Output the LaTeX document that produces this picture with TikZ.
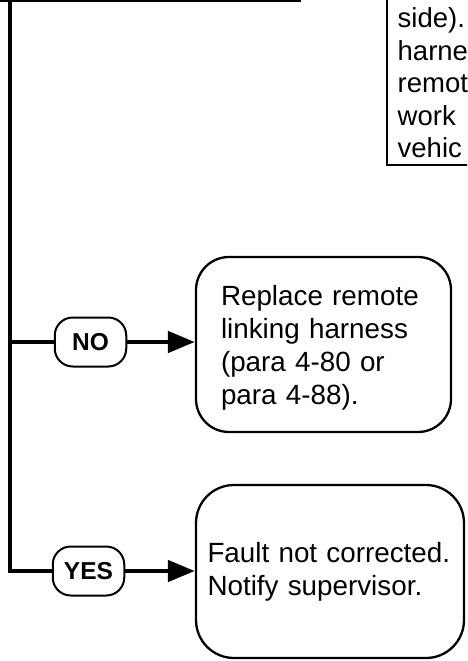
\documentclass[tikz,border=0pt]{standalone}
\usepackage{fontspec}
\setmainfont{Liberation Sans}
\usetikzlibrary{arrows.meta}
\tikzset{
  conn/.style={line width=4.7pt},
  arr/.style={conn, -{Triangle[length=27pt,width=21pt]}},
  oval/.style={draw, line width=2pt, rounded corners=18pt, minimum width=71.5pt,
    minimum height=49pt, inner sep=0pt, font=\bfseries\fontsize{24.5}{28}\selectfont},
  actbox/.style={draw, line width=2.3pt, inner sep=0pt, align=left,
    font=\fontsize{27.8}{32.7}\selectfont},
  notetext/.style={inner sep=0pt, align=left, text width=80pt,
    font=\fontsize{27.5}{32.4}\selectfont}
}
\begin{document}
\begin{tikzpicture}[x=1pt,y=-1pt]
\useasboundingbox (0,0) rectangle (467,661);
\clip (0,0) rectangle (467,661);
% top
\coordinate (tl) at (0,0);
\coordinate (tr) at (301,0);
\coordinate (trunk) at (10,0);
\draw[conn] (tl) -- (tr);
% note box at top right
\draw[line width=2.3pt] (387,-20) rectangle (540,165);
\node[notetext, anchor=north west] (note) at (397.5,7.7) {side).\\harne\\remot\\work\\vehic};
% decisions
\node[oval] (no) at (90.5,342) {NO};
\node[oval] (yes) at (88.5,571) {YES};
% action boxes
\node[actbox, rounded corners=33pt, minimum width=255pt, minimum height=175pt, text width=205pt]
  (nobox) at (323.5,344.5) {\rule{0pt}{26.8pt}Replace remote\\linking harness\\(para 4-80 or\\para 4-88).};
\node[actbox, rounded corners=38pt, minimum width=268pt, minimum height=173pt, text width=245pt]
  (yesbox) at (330,571.5) {Fault not corrected.\\Notify supervisor.};
% connectors
\draw[conn] (trunk) |- (yes.west);
\draw[conn] (trunk |- no.west) -- (no.west);
\draw[arr] (no.east) -- (no.east -| nobox.west);
\draw[arr] (yes.east) -- (yes.east -| yesbox.west);
\end{tikzpicture}
\end{document}
